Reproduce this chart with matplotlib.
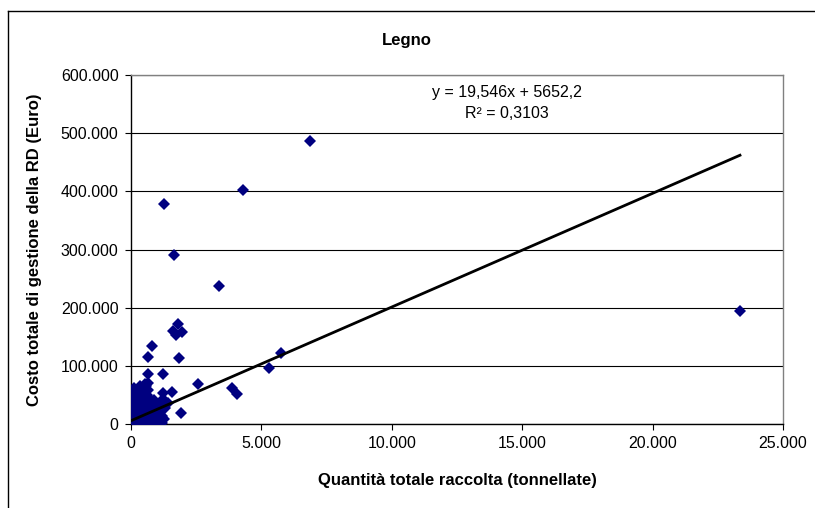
import matplotlib.pyplot as plt
from matplotlib.ticker import FuncFormatter, MultipleLocator
from matplotlib.lines import Line2D

plt.rcParams['font.family'] = ['Liberation Sans', 'DejaVu Sans']

# Quantità totale raccolta (tonnellate) - scattered points
x_outliers = [6860, 4290, 1265, 1650, 3370, 23350, 1815, 1620, 1945, 1725,
              795, 640, 1850, 5750, 5290, 640, 1215, 640, 2560, 3860,
              4050, 1560, 345, 1905, 1215, 1110, 1430, 1050, 540, 1240]
y_outliers = [486000, 402000, 378000, 290500, 237000, 194000, 172000, 160500, 157500, 153000,
              134500, 115500, 113000, 121500, 96000, 86000, 86000, 71000, 69000, 61500,
              51000, 55500, 58500, 19500, 43000, 29500, 35500, 7000, 68500, 52800]

# dense cluster near the origin
x_cluster = [20, 50, 80, 120, 150, 200, 250, 300, 350, 400, 450, 500, 550, 600, 650,
             700, 750, 800, 850, 900, 950, 1000, 1100, 1200, 1050,
             30, 60, 90, 40, 70, 100, 20, 130, 160, 190, 220, 260, 300, 340, 380,
             420, 460, 500, 540, 580, 620, 660, 700, 740, 780, 820, 860, 900, 940,
             980, 1020, 1080, 1150, 180, 250, 300, 450, 520, 600, 700, 800, 880,
             60, 10, 10, 5, 15, 110, 170, 230, 280, 330, 390, 480, 560, 640, 720,
             770, 830, 920, 1000, 1180, 1250, 130, 350, 560, 1150, 1300, 950, 663, 88]
y_cluster = [2000, 5000, 1500, 8000, 3000, 12000, 6000, 15000, 4000, 10000, 18000, 7000, 2500, 12000, 20000,
             5000, 9000, 3000, 14000, 6000, 1500, 4000, 8000, 2000, 12000,
             10000, 18000, 25000, 30000, 35000, 40000, 45000, 47000, 38000, 30000, 22000, 28000, 34000, 40000, 26000,
             32000, 24000, 30000, 38000, 26000, 33000, 18000, 27000, 40000, 22000, 30000, 25000, 17000, 28000,
             20000, 24000, 18000, 22000, 52000, 55000, 60000, 48000, 45000, 50000, 45000, 36000, 42000,
             55000, 20000, 35000, 500, 8000, 15000, 20000, 10000, 1000, 22000, 16000, 12000, 16000, 8000, 14000,
             17000, 9000, 11000, 15000, 14000, 9000, 62000, 66000, 66000, 38000, 27000, 35000, 58400, 49900]

x_vals = x_outliers + x_cluster
y_vals = y_outliers + y_cluster

# trend line from the chart label
slope = 19.546
intercept = 5652.2
r2_label = "R² = 0,3103"
eq_label = "y = 19,546x + 5652,2"


def thousands(v, pos):
    return f"{int(v):,}".replace(",", ".")


fig = plt.figure(figsize=(8.15, 5.08), dpi=100)
ax = fig.add_axes([131 / 815, 1 - 424 / 508, 652 / 815, 349 / 508])

ax.plot(x_vals, y_vals, linestyle='none', marker='D', markersize=6.4,
        color='#000080', markeredgewidth=0, zorder=3)

x0, x1 = min(x_vals), max(x_vals)
ax.plot([x0, x1], [slope * x0 + intercept, slope * x1 + intercept],
        color='black', linewidth=2.0, zorder=4)

ax.set_xlim(0, 25000)
ax.set_ylim(0, 600000)
ax.xaxis.set_major_locator(MultipleLocator(5000))
ax.yaxis.set_major_locator(MultipleLocator(100000))
ax.xaxis.set_major_formatter(FuncFormatter(thousands))
ax.yaxis.set_major_formatter(FuncFormatter(thousands))
ax.tick_params(axis='both', direction='out', length=4, width=0.8,
               labelsize=11.5, pad=5, colors='black')

ax.yaxis.grid(True, color='black', linewidth=0.8)
ax.set_axisbelow(True)
ax.spines['left'].set_color('black')
ax.spines['bottom'].set_color('black')
ax.spines['top'].set_color('#808080')
ax.spines['right'].set_color('#808080')
for s in ax.spines.values():
    s.set_linewidth(1.0)

ax.set_xlabel("Quantità totale raccolta (tonnellate)", fontsize=12,
              fontweight='bold')
ax.set_ylabel("Costo totale di gestione della RD (Euro)", fontsize=12,
              fontweight='bold')
ax.xaxis.set_label_coords(0.5, -(473 - 424) / 349)
ax.yaxis.set_label_coords(-(131 - 42) / 652, 0.5)
fig.text(407 / 815, 1 - 40 / 508, "Legno", ha='center', va='center',
         fontsize=12, fontweight='bold')

ax.text((507 - 131) / 652, 1 - (92 - 75) / 349, eq_label,
        transform=ax.transAxes, ha='center', va='center', fontsize=11.5)
ax.text((507 - 131) / 652, 1 - (113 - 75) / 349, r2_label,
        transform=ax.transAxes, ha='center', va='center', fontsize=11.5)

# outer chart border (left and top edges visible)
fig.add_artist(Line2D([8 / 815, 8 / 815], [0, 1 - 11 / 508], color='black',
                      linewidth=1.0, transform=fig.transFigure))
fig.add_artist(Line2D([8 / 815, 1], [1 - 11 / 508, 1 - 11 / 508], color='black',
                      linewidth=1.0, transform=fig.transFigure))

fig.savefig("out.png", dpi=100)
